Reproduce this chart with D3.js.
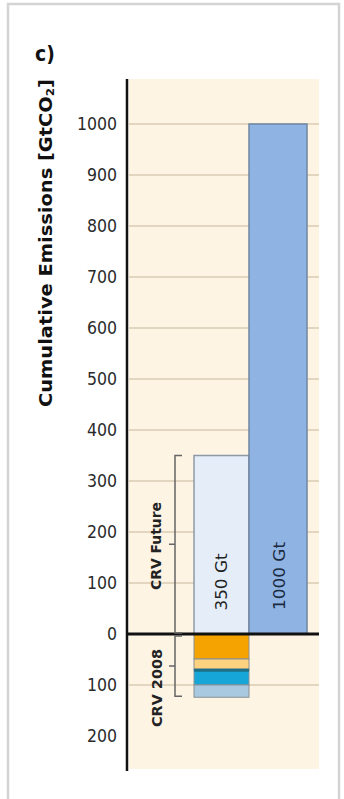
<!DOCTYPE html>
<html><head><meta charset="utf-8">
<script src="https://cdn.jsdelivr.net/npm/d3@7"></script>
<style>html,body{margin:0;padding:0;background:#fff;}svg{display:block;}</style>
</head><body>
<script>
// ---- data ----
const tickValues = [1000, 900, 800, 700, 600, 500, 400, 300, 200, 100, 0, -100, -200];
const tickLabels = ["1000","900","800","700","600","500","400","300","200","100","0","100","200"];
const gridValues = [1000, 900, 800, 700, 600, 500, 400, 300, 200, 100, -100];
const budgetBars = ["350 Gt", "1000 Gt"];
const budgetValues = [350, 1000];
const pastSegments = ["fossil", "fossil2", "landuse", "landuse2"];
const pastValues = [49, 20, 31, 24];   // stacked downward below zero
const pastColors = ["#f5a300", "#fbd280", "#17a6d8", "#a9c9e1"];

const W = 344, H = 799;
const svg = d3.select("body").append("svg").attr("width", W).attr("height", H);

// outer frame
svg.append("rect").attr("x", 8).attr("y", 4).attr("width", 331).attr("height", 800)
  .attr("fill", "#fff").attr("stroke", "#d4d4d4").attr("stroke-width", 2.5);

const y = d3.scaleLinear().domain([-200, 1000]).range([736, 124]);
const colX = {"350 Gt": [194, 249], "1000 Gt": [249, 307]};

// plot background
svg.append("rect").attr("x", 129).attr("y", 79).attr("width", 190).attr("height", 690)
  .attr("fill", "#fdf4e4");

// grid lines
svg.append("g").selectAll("line").data(gridValues).join("line")
  .attr("x1", 129).attr("x2", 319)
  .attr("y1", d => y(d)).attr("y2", d => y(d))
  .attr("stroke", "#d9cdb6").attr("stroke-width", 1.5);

// budget bars
const bcol = ["#e4edf8", "#8fb3e3"];
const bstroke = ["#8d99a6", "#6f86a3"];
svg.append("g").selectAll("rect").data(budgetBars).join("rect")
  .attr("x", d => colX[d][0]).attr("width", d => colX[d][1] - colX[d][0])
  .attr("y", (d, i) => y(budgetValues[i]))
  .attr("height", (d, i) => y(0) - y(budgetValues[i]))
  .attr("fill", (d, i) => bcol[i]).attr("stroke", (d, i) => bstroke[i]).attr("stroke-width", 1.5);

// past stacked segments (below zero)
let acc = 0;
const segs = pastValues.map((v, i) => { const s = {i, from: acc, to: acc + v}; acc += v; return s; });
svg.append("g").selectAll("rect").data(segs).join("rect")
  .attr("x", colX["350 Gt"][0]).attr("width", colX["350 Gt"][1] - colX["350 Gt"][0])
  .attr("y", d => y(-d.from)).attr("height", d => y(-d.to) - y(-d.from))
  .attr("fill", d => pastColors[d.i]).attr("stroke", "#8a8f94").attr("stroke-width", 1);
svg.append("line").attr("x1", colX["350 Gt"][0]).attr("x2", colX["350 Gt"][1])
  .attr("y1", y(-segs[2].from) + 1).attr("y2", y(-segs[2].from) + 1)
  .attr("stroke", "#1d6f86").attr("stroke-width", 3);

// zero line
svg.append("line").attr("x1", 127).attr("x2", 319).attr("y1", y(0)).attr("y2", y(0))
  .attr("stroke", "#111").attr("stroke-width", 3);

const lf = "'DejaVu Sans Condensed','Liberation Sans Narrow',sans-serif";

// y axis
const yAxis = d3.axisLeft(y).tickValues(tickValues).tickSize(0).tickPadding(10)
  .tickFormat((d, i) => tickLabels[i]);
const ax = svg.append("g").attr("transform", "translate(127,0)").call(yAxis);
ax.select(".domain").remove();
ax.selectAll("text").attr("font-family", lf)
  .attr("font-size", 17.5).attr("fill", "#2a2a2a");
svg.append("line").attr("x1", 127).attr("x2", 127).attr("y1", 79).attr("y2", 771)
  .attr("stroke", "#111").attr("stroke-width", 2.5);

// brackets
function bracket(top, bottom) {
  const xv = 175;
  const mid = (top + bottom) / 2;
  const p = d3.path();
  p.moveTo(xv + 7, top); p.lineTo(xv, top); p.lineTo(xv, bottom); p.lineTo(xv + 7, bottom);
  p.moveTo(xv, mid); p.lineTo(xv - 6, mid);
  svg.append("path").attr("d", p.toString()).attr("fill", "none")
    .attr("stroke", "#666").attr("stroke-width", 1.5);
}
bracket(y(350), y(0) - 1);
bracket(y(0) + 2, y(-pastValues.reduce((a, b) => a + b, 0)) - 1);

// labels
function vtext(txt, cx, cy, size, weight, color, len) {
  const t = svg.append("text").attr("transform", `translate(${cx},${cy}) rotate(-90)`)
    .attr("text-anchor", "middle").attr("dominant-baseline", "central")
    .attr("font-family", lf).attr("font-size", size).attr("font-weight", weight)
    .attr("fill", color).text(txt);
  if (len) t.attr("textLength", len).attr("lengthAdjust", "spacingAndGlyphs");
  return t;
}
vtext("CRV Future", 156, 546, 14, "bold", "#222", 88);
vtext("CRV 2008", 157, 688, 14, "bold", "#222", 78);
vtext(budgetBars[0], 222, 582, 15, "normal", "#222", 57);
vtext(budgetBars[1], 280, 576, 15, "normal", "#1a2a40", 68);

// y title
const yt = svg.append("text").attr("transform", "translate(45,243) rotate(-90)")
  .attr("text-anchor", "middle").attr("dominant-baseline", "central")
  .attr("font-family", lf).attr("font-size", 18).attr("font-weight", "bold").attr("fill", "#111")
  .attr("textLength", 328).attr("lengthAdjust", "spacingAndGlyphs");
yt.append("tspan").text("Cumulative Emissions [GtCO");
yt.append("tspan").attr("font-size", 11).attr("dy", 5).text("2");
yt.append("tspan").attr("dy", -5).text("]");

// panel letter
svg.append("text").attr("x", 45).attr("y", 61).attr("text-anchor", "middle")
  .attr("font-family", lf).attr("font-size", 21).attr("font-weight", "bold").attr("fill", "#111")
  .text("c)");
</script>
</body></html>
